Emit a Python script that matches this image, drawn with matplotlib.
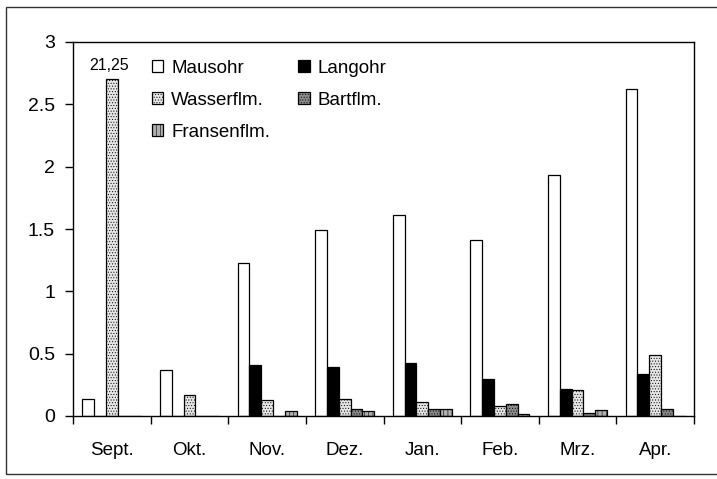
import numpy as np
import matplotlib
matplotlib.use('Agg')
import matplotlib.pyplot as plt
from matplotlib.patches import Rectangle, Patch

plt.rcParams['font.family'] = ['Liberation Sans', 'DejaVu Sans']
plt.rcParams['hatch.linewidth'] = 0.4

# Daten
monate = ['Sept.', 'Okt.', 'Nov.', 'Dez.', 'Jan.', 'Feb.', 'Mrz.', 'Apr.']
mausohr = [0.14, 0.37, 1.23, 1.49, 1.61, 1.41, 1.93, 2.62]
langohr = [0, 0, 0.41, 0.39, 0.425, 0.30, 0.22, 0.34]
wasserflm = [21.25, 0.17, 0.13, 0.14, 0.11, 0.08, 0.21, 0.49]
bartflm = [0, 0, 0, 0.06, 0.06, 0.10, 0.025, 0.06]
fransenflm = [0, 0, 0.04, 0.04, 0.06, 0.02, 0.05, 0]

serien = ['Mausohr', 'Langohr', 'Wasserflm.', 'Bartflm.', 'Fransenflm.']
werte = [mausohr, langohr, wasserflm, bartflm, fransenflm]
farben = ['white', 'black', '#e6e6e6', '#8c8c8c', '#b0b0b0']
muster = [None, None, '......', '......', '||||']
kappung = 2.7  # Balken ueber der Achse werden abgeschnitten

fig = plt.figure(figsize=(7.17, 4.79), dpi=100)
ax = fig.add_axes([73/717, 1-416/479, (694-73)/717, (416-42)/479])

# Rahmen um das Diagramm
fig.patches.append(Rectangle((6/717, 5/479), 1.2, 1-11.5/479, transform=fig.transFigure,
                             fill=False, edgecolor='#333333', linewidth=1.0))

x = np.arange(len(monate))
b = 0.152
handles = []
for i, (name, v) in enumerate(zip(serien, werte)):
    v = np.minimum(np.array(v), kappung)
    pos = x + (i - 2) * b
    ax.bar(pos, v, width=b, color=farben[i], edgecolor='black', linewidth=0.9,
           hatch=muster[i])
    handles.append(Patch(facecolor=farben[i], edgecolor='black', linewidth=0.9,
                         hatch=muster[i], label=name))

ax.text(x[0] - 0.04, 2.81, '21,25', ha='center', va='center', fontsize=11.5)

ax.set_xlim(-0.5, len(monate) - 0.5)
ax.set_ylim(0, 3)
ax.set_yticks(np.arange(0, 3.01, 0.5))
ax.set_yticklabels(['0', '0.5', '1', '1.5', '2', '2.5', '3'])
ax.set_xticks(np.arange(-0.5, len(monate), 1))
ax.set_xticklabels([])
ax.set_xticks(x, minor=True)
ax.set_xticklabels(monate, minor=True)
ax.tick_params(axis='x', which='major', direction='out', length=6, width=1)
ax.tick_params(axis='x', which='minor', length=0, pad=19, labelsize=13.5)
ax.tick_params(axis='y', direction='out', length=6, width=1, pad=7, labelsize=14)
for s in ax.spines.values():
    s.set_linewidth(1)

reihenfolge = [0, 2, 4, 1, 3]
ax.legend([handles[k] for k in reihenfolge], [serien[k] for k in reihenfolge],
          ncol=2, loc='upper left', bbox_to_anchor=(152/717, 1-60/479),
          bbox_transform=fig.transFigure, frameon=False, borderpad=0, borderaxespad=0,
          fontsize=13.5, handlelength=0.6, handleheight=0.6, handletextpad=0.42,
          columnspacing=1.5, labelspacing=0.8)

plt.savefig('out.png', dpi=100)
